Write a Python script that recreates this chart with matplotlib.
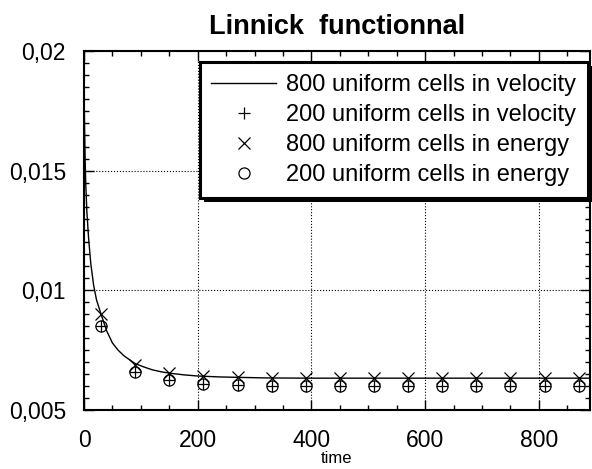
import matplotlib
matplotlib.use("Agg")
import matplotlib.pyplot as plt
import matplotlib.patheffects as pe
from matplotlib.ticker import MultipleLocator, FixedLocator, FixedFormatter

plt.rcParams['font.family'] = ['Liberation Sans', 'DejaVu Sans']

# 800 uniform cells in velocity (continuous curve)
t_vel800 = [0, 1, 2, 3, 5, 8, 12, 17, 22, 30, 40, 50, 60, 70, 80, 90, 105,
            120, 135, 150, 175, 200, 240, 280, 320, 400, 500, 600, 700, 800, 890]
f_vel800 = [0.0185, 0.0168, 0.0155, 0.0145, 0.0133, 0.0122, 0.0111, 0.0102,
            0.0096, 0.0090, 0.0083, 0.0078, 0.0075, 0.00727, 0.0071, 0.00694,
            0.0068, 0.00668, 0.0066, 0.00654, 0.00647, 0.00642, 0.00638,
            0.00636, 0.00634, 0.00633, 0.00633, 0.00633, 0.00633, 0.00633,
            0.00633]

# sampled outputs
t_samples = [30, 90, 150, 210, 270, 330, 390, 450, 510, 570, 630, 690, 750, 810, 870]
f_vel200 = [0.0085, 0.0066, 0.00625, 0.00608, 0.00605, 0.00602, 0.0060, 0.0060,
            0.0060, 0.0060, 0.0060, 0.0060, 0.0060, 0.0060, 0.0060]
f_en800 = [0.0090, 0.0069, 0.00654, 0.00643, 0.00636, 0.00635, 0.00634, 0.00634,
           0.00633, 0.00633, 0.00633, 0.00633, 0.00633, 0.00633, 0.00633]
f_en200 = [0.0085, 0.0066, 0.00625, 0.00608, 0.00605, 0.00602, 0.0060, 0.0060,
           0.0060, 0.0060, 0.0060, 0.0060, 0.0060, 0.0060, 0.0060]

labels = ['800 uniform cells in velocity', '200 uniform cells in velocity',
          '800 uniform cells in energy', '200 uniform cells in energy']
yticks = [0.005, 0.01, 0.015, 0.02]
ytick_labels = ['0,005', '0,01', '0,015', '0,02']

fig = plt.figure(figsize=(5.92, 4.69), dpi=100)
ax = fig.add_axes([0.1419, 0.1258, 0.8547, 0.7655])

ax.plot(t_vel800, f_vel800, color='black', lw=1.0, label=labels[0], zorder=3)
ax.plot(t_samples, f_vel200, ls='none', marker='+', ms=8, mew=0.9,
        color='black', label=labels[1], zorder=4)
ax.plot(t_samples, f_en800, ls='none', marker='x', ms=9, mew=0.9,
        color='black', label=labels[2], zorder=4)
ax.plot(t_samples, f_en200, ls='none', marker='o', ms=8, mew=0.9,
        mfc='none', mec='black', label=labels[3], zorder=4)

ax.set_xlim(0, 890)
ax.set_ylim(0.005, 0.02)
ax.xaxis.set_major_locator(FixedLocator([0, 200, 400, 600, 800]))
ax.xaxis.set_minor_locator(MultipleLocator(50))
ax.yaxis.set_major_locator(FixedLocator(yticks))
ax.yaxis.set_major_formatter(FixedFormatter(ytick_labels))
ax.yaxis.set_minor_locator(MultipleLocator(0.0005))

ax.tick_params(which='both', direction='in', top=True, right=True,
               labelsize=16.5, width=1.0)
ax.tick_params(which='major', length=7)
ax.tick_params(which='minor', length=3.5)
ax.tick_params(axis='y', pad=13)
ax.tick_params(axis='x', pad=14)

for s in ax.spines.values():
    s.set_linewidth(1.5)

ax.grid(True, which='major', ls=':', color='black', lw=0.8)

ax.set_title('Linnick  functionnal', fontsize=19.5, fontweight='bold', pad=12)
ax.set_xlabel('time', fontsize=12, labelpad=-1)

leg = ax.legend(loc='upper right', bbox_to_anchor=(0.996, 0.969),
                borderaxespad=0, fontsize=17, fancybox=False, framealpha=1,
                edgecolor='black', handlelength=2.75, handletextpad=0.42,
                labelspacing=0.34, borderpad=0.5)
leg.get_frame().set_linewidth(2.2)
leg.get_frame().set_path_effects([
    pe.SimplePatchShadow(offset=(3, -3), shadow_rgbFace='black', alpha=1),
    pe.Normal()])

fig.savefig('out.png', dpi=100)
